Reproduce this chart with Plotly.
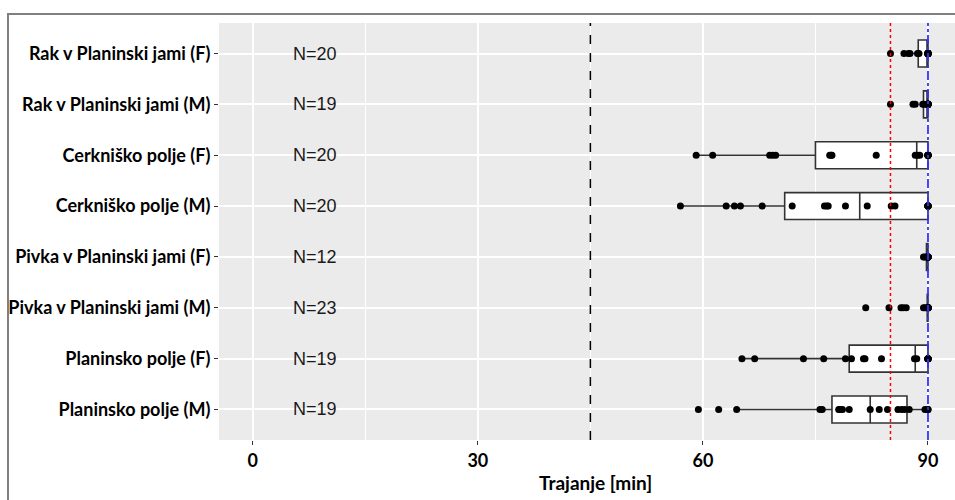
import plotly.graph_objects as go

categories = [
    "Rak v Planinski jami (F)",
    "Rak v Planinski jami (M)",
    "Cerkniško polje (F)",
    "Cerkniško polje (M)",
    "Pivka v Planinski jami (F)",
    "Pivka v Planinski jami (M)",
    "Planinsko polje (F)",
    "Planinsko polje (M)",
]
n_labels = ["N=20", "N=19", "N=20", "N=20", "N=12", "N=23", "N=19", "N=19"]

rak_f = [85.0, 86.8, 87.4, 87.6, 88.6, 88.8] + [90.0] * 14
rak_m = [85.0, 88.0, 88.3, 89.3, 89.5] + [90.0] * 14
cerk_f = [59.1, 61.3, 68.9, 69.3, 69.7, 76.9, 77.1, 77.2, 83.1, 88.3, 88.6, 88.9] + [90.0] * 8
cerk_m = [57.0, 63.1, 64.2, 65.0, 67.9, 71.9, 76.2, 76.5, 76.7, 79.0, 81.9, 85.1, 85.6] + [90.0] * 7
pivka_f = [89.4, 89.6, 89.8] + [90.0] * 9
pivka_m = [81.7, 84.8, 86.4, 86.7, 87.1, 89.4, 89.6] + [90.0] * 16
plan_f = [65.2, 66.9, 73.4, 76.1, 79.0, 79.8, 81.4, 81.6, 83.8, 88.2, 88.5] + [90.0] * 8
plan_m = [59.4, 62.1, 64.5, 75.6, 75.9, 78.1, 78.3, 78.6, 79.5, 82.3, 83.5, 84.6,
          86.0, 86.5, 86.9, 87.5, 89.6, 90.0, 90.0]
series = [rak_f, rak_m, cerk_f, cerk_m, pivka_f, pivka_m, plan_f, plan_m]

# box statistics
q1 = [88.7, 89.4, 75.0, 70.9, 89.8, 89.9, 79.5, 77.2]
median = [90.0, 90.0, 88.5, 80.9, 90.0, 90.0, 88.3, 82.3]
q3 = [90.0, 90.0, 90.0, 90.0, 90.0, 90.0, 90.0, 87.2]
lowerfence = [86.8, 89.0, 59.1, 57.0, 89.4, 89.9, 65.2, 64.5]
upperfence = [90.0, 90.0, 90.0, 90.0, 90.0, 90.0, 90.0, 90.0]

x_ticks = [0, 30, 60, 90]
ref_lines = {"dashed": 45, "dotted": 85, "dashdot": 90}

fig = go.Figure()

fig.add_trace(go.Box(
    y=categories, q1=q1, median=median, q3=q3,
    lowerfence=lowerfence, upperfence=upperfence,
    orientation="h", boxpoints=False, width=0.53, whiskerwidth=0,
    fillcolor="white", line=dict(color="#333333", width=1.6),
    showlegend=False, hoverinfo="skip",
))

for cat, vals in zip(categories, series):
    fig.add_trace(go.Scatter(
        x=vals, y=[cat] * len(vals), mode="markers",
        marker=dict(color="black", size=7),
        showlegend=False, hoverinfo="skip",
    ))

for cat, lab in zip(categories, n_labels):
    fig.add_annotation(x=8.3, y=cat, text=lab, showarrow=False,
                       font=dict(family="Liberation Sans", size=18, color="#1a1a1a"))

fig.add_vline(x=ref_lines["dashed"], line=dict(color="black", width=1.5, dash="dash"), layer="above")
fig.add_vline(x=ref_lines["dotted"], line=dict(color="red", width=1.5, dash="dot"), layer="above")
fig.add_vline(x=ref_lines["dashdot"], line=dict(color="#3333ff", width=1.8, dash="dashdot"), layer="above")

# outer frame
fig.add_shape(type="path", xref="paper", yref="paper",
              path="M -0.2867,-0.3 L -0.2867,1.0216 L 1.05,1.0216",
              line=dict(color="#808080", width=2))

fig.add_annotation(x=0.512, y=-0.101, xref="paper", yref="paper",
                   xanchor="center", yanchor="middle",
                   text="Trajanje [min]", showarrow=False,
                   font=dict(family="Lato", size=19, color="black", weight="bold"))

fig.update_layout(
    width=955, height=500,
    margin=dict(l=219, r=0, t=23, b=60),
    paper_bgcolor="white", plot_bgcolor="#EBEBEB",
    xaxis=dict(range=[-4.5, 93.6], tickvals=x_ticks, showgrid=True,
               gridcolor="white", gridwidth=1.5, zeroline=False,
               ticks="outside", ticklen=4, tickcolor="#333333", tickwidth=1,
               tickfont=dict(family="Lato", size=18, color="black", weight="bold"),
               minor=dict(tickvals=[15, 45, 75], showgrid=True, gridcolor="white", gridwidth=0.8),
               fixedrange=True),
    yaxis=dict(type="category", categoryorder="array", categoryarray=categories,
               range=[7.6, -0.6], showgrid=True, gridcolor="white", gridwidth=1.5,
               ticks="outside", ticklen=4, tickcolor="#333333", tickwidth=1,
               tickfont=dict(family="Lato", size=18, color="black", weight="bold"),
               fixedrange=True),
)

fig.write_html("out.html")
